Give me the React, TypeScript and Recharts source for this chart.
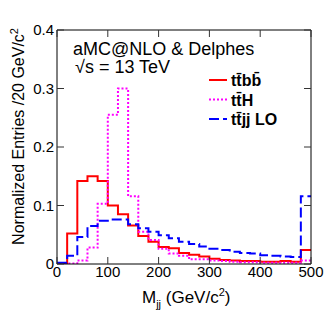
import { ComposedChart, Line, XAxis, YAxis, Legend } from "recharts";

// bin lower edges, 20 GeV bins
const binEdges = [0, 20, 40, 60, 80, 100, 120, 140, 160, 180, 200, 220, 240, 260, 280, 300, 320, 340, 360, 380, 400, 420, 440, 460, 480, 500];

const ttbb = [0, 0.052, 0.142, 0.15, 0.142, 0.1, 0.085, 0.066, 0.048, 0.038, 0.029, 0.027, 0.019, 0.016, 0.013, 0.009, 0.007, 0.006, 0.005, 0.005, 0.004, 0.004, 0.005, 0.004, 0.024];
const ttH = [0, 0.001, 0.006, 0.028, 0.103, 0.255, 0.3, 0.116, 0.055, 0.041, 0.026, 0.018, 0.014, 0.008, 0.008, 0.006, 0.005, 0.004, 0.003, 0.003, 0.002, 0.002, 0.002, 0.002, 0.006];
const ttjj = [0.002, 0.014, 0.046, 0.065, 0.074, 0.076, 0.076, 0.068, 0.061, 0.055, 0.049, 0.044, 0.038, 0.034, 0.03, 0.026, 0.024, 0.021, 0.019, 0.018, 0.015, 0.014, 0.013, 0.012, 0.116];

const seriesOrder = ["ttbb", "ttH", "ttjj"];
const xTicks = [0, 100, 200, 300, 400, 500];
const yTicks = [0, 0.1, 0.2, 0.3, 0.4];

// last edge repeats the last bin so stepAfter closes the histogram
const data = binEdges.map((x, i) => {
  const k = Math.min(i, ttbb.length - 1);
  return { x, ttbb: ttbb[k], ttH: ttH[k], ttjj: ttjj[k] };
});

const font = "'Liberation Sans', Arial, sans-serif";
const TL = 7;

function BottomTick({ x, y, payload }: any) {
  return (
    <g>
      <line x1={x} y1={y} x2={x} y2={y - TL} stroke="#333" />
      <text x={x} y={y + 13} textAnchor="middle" fontSize={15} fontFamily={font} fill="#000">
        {payload.value}
      </text>
    </g>
  );
}

function TopTick({ x, y }: any) {
  return <line x1={x} y1={y} x2={x} y2={y + TL} stroke="#333" />;
}

function LeftTick({ x, y, payload }: any) {
  return (
    <g>
      <line x1={x} y1={y} x2={x + TL} y2={y} stroke="#333" />
      <text x={x - 3} y={y + 5} textAnchor="end" fontSize={15} fontFamily={font} fill="#000">
        {payload.value === 0 ? "0" : payload.value.toFixed(1)}
      </text>
    </g>
  );
}

function RightTick({ x, y }: any) {
  return <line x1={x} y1={y} x2={x - TL} y2={y} stroke="#333" />;
}

function LegendBox({ payload }: any) {
  return (
    <svg width={110} height={60}>
      {(payload || []).map((p: any, i: number) => (
        <g key={p.value}>
          <line
            x1={4}
            x2={22}
            y1={10 + i * 19.5}
            y2={10 + i * 19.5}
            stroke={p.color}
            strokeWidth={2}
            strokeDasharray={p.payload?.strokeDasharray}
          />
          <text x={26} y={16 + i * 19.5} fontSize={16} fontWeight="bold" fontFamily={font} fill="#000">
            {p.value}
          </text>
        </g>
      ))}
    </svg>
  );
}

export default function App() {
  return (
    <div style={{ position: "absolute", left: 0, top: 0, width: 327, height: 311, background: "#fff" }}>
      <ComposedChart width={327} height={311} data={data} margin={{ top: 29, right: 15, bottom: 17, left: 0 }}>
        <XAxis
          dataKey="x"
          type="number"
          domain={[0, 500]}
          ticks={xTicks}
          height={30}
          tickSize={0}
          tickMargin={0}
          tickLine={false}
          axisLine={{ stroke: "#000" }}
          tick={<BottomTick />}
          interval={0}
        />
        <XAxis
          xAxisId="top"
          orientation="top"
          dataKey="x"
          type="number"
          domain={[0, 500]}
          ticks={xTicks}
          height={1}
          tickSize={0}
          tickMargin={0}
          tickLine={false}
          axisLine={{ stroke: "#000" }}
          tick={<TopTick />}
          interval={0}
          allowDataOverflow
        />
        <YAxis
          type="number"
          domain={[0, 0.4]}
          ticks={yTicks}
          width={57}
          tickSize={0}
          tickMargin={0}
          tickLine={false}
          axisLine={{ stroke: "#000" }}
          tick={<LeftTick />}
          interval={0}
          allowDataOverflow
        />
        <YAxis
          yAxisId="right"
          orientation="right"
          type="number"
          domain={[0, 0.4]}
          ticks={yTicks}
          width={1}
          tickSize={0}
          tickMargin={0}
          tickLine={false}
          axisLine={{ stroke: "#000" }}
          tick={<RightTick />}
          interval={0}
          allowDataOverflow
        />
        <Legend
          layout="vertical"
          align="center"
          verticalAlign="middle"
          itemSorter={(item: any) => seriesOrder.indexOf(item.dataKey)}
          content={<LegendBox />}
          wrapperStyle={{ left: 205, top: 70, width: 110 }}
        />
        <Line
          type="stepAfter"
          dataKey="ttbb"
          name={"tt\u0304bb\u0304"}
          stroke="#ff0000"
          strokeWidth={2}
          dot={false}
          isAnimationActive={false}
        />
        <Line
          type="stepAfter"
          dataKey="ttH"
          name={"tt\u0304H"}
          stroke="#ff00ff"
          strokeWidth={2}
          strokeDasharray="2 2"
          dot={false}
          isAnimationActive={false}
        />
        <Line
          type="stepAfter"
          dataKey="ttjj"
          name={"tt\u0304jj LO"}
          stroke="#0000ff"
          strokeWidth={2}
          strokeDasharray="10 4"
          dot={false}
          isAnimationActive={false}
        />
      </ComposedChart>
      <svg
        width={327}
        height={311}
        style={{ position: "absolute", left: 0, top: 0, pointerEvents: "none" }}
        fontFamily={font}
      >
        <text x={73} y={55} fontSize={18} fill="#000">aMC@NLO &amp; Delphes</text>
        <text x={75} y={73} fontSize={18} fill="#000">√s = 13 TeV</text>
        <text x={142} y={303} fontSize={17} fill="#000">
          M<tspan dy={5} fontSize={11}>jj</tspan>
          <tspan dy={-5}> (GeV/c</tspan>
          <tspan dy={-7} fontSize={11}>2</tspan>
          <tspan dy={7}>)</tspan>
        </text>
        <text x={24} y={28} fontSize={16} fill="#000" textAnchor="end" transform="rotate(-90 24 28)">
          Normalized Entries /20 GeV/c<tspan dy={-6} fontSize={11}>2</tspan>
        </text>
      </svg>
    </div>
  );
}
